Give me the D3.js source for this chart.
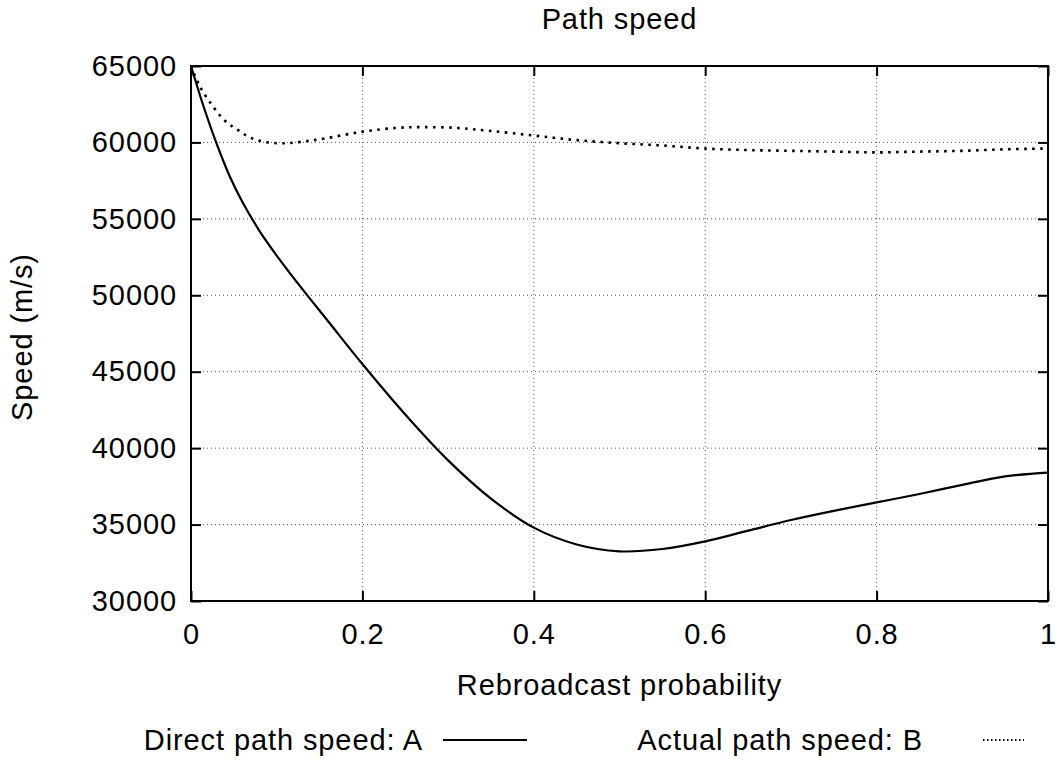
<!DOCTYPE html>
<html>
<head>
<meta charset="utf-8">
<script src="https://cdn.jsdelivr.net/npm/d3@7"></script>
<style>
  html, body { margin: 0; padding: 0; background: #fff; }
  svg text { font-family: "Liberation Sans", Arial, Helvetica, sans-serif; fill: #000; letter-spacing: 0.9px; }
</style>
</head>
<body>
<svg id="chart" width="1064" height="760"></svg>
<script>
const title = "Path speed";
const xLabel = "Rebroadcast probability";
const yLabel = "Speed (m/s)";
const xTicks = [0, 0.2, 0.4, 0.6, 0.8, 1];
const xTickLabels = ["0", "0.2", "0.4", "0.6", "0.8", "1"];
const yTicks = [30000, 35000, 40000, 45000, 50000, 55000, 60000, 65000];
const seriesNames = ["Direct path speed: A", "Actual path speed: B"];

const directX = [0, 0.015, 0.03, 0.045, 0.06, 0.08, 0.1, 0.13, 0.16, 0.2, 0.25, 0.3, 0.35, 0.4, 0.45, 0.5, 0.55, 0.6, 0.65, 0.7, 0.75, 0.8, 0.85, 0.9, 0.95, 1.0];
const directY = [65000, 62300, 59900, 57800, 56100, 54200, 52600, 50400, 48300, 45500, 42200, 39200, 36700, 34800, 33700, 33250, 33400, 33900, 34600, 35300, 35900, 36450, 37000, 37600, 38150, 38400];

const actualX = [0, 0.01, 0.025, 0.04, 0.055, 0.07, 0.09, 0.11, 0.13, 0.155, 0.2, 0.24, 0.27, 0.31, 0.35, 0.4, 0.45, 0.5, 0.55, 0.6, 0.65, 0.7, 0.75, 0.8, 0.85, 0.9, 0.95, 1.0];
const actualY = [65000, 63700, 62400, 61400, 60800, 60300, 60000, 59950, 60050, 60250, 60700, 60950, 61000, 60950, 60750, 60450, 60150, 59950, 59800, 59600, 59500, 59450, 59400, 59350, 59400, 59450, 59550, 59600];

const svg = d3.select("#chart");
const m = { left: 191, right: 1048, top: 66, bottom: 601 };
const FS = 29;

const x = d3.scaleLinear().domain([0, 1]).range([m.left, m.right]);
const y = d3.scaleLinear().domain([30000, 65000]).range([m.bottom, m.top]);

// grid
const grid = svg.append("g");
grid.selectAll("line.gy").data(yTicks.slice(1, -1)).enter().append("line")
  .attr("x1", m.left).attr("x2", m.right)
  .attr("y1", d => y(d)).attr("y2", d => y(d))
  .attr("stroke", "#555").attr("stroke-width", 1).attr("stroke-dasharray", "1,3");
grid.selectAll("line.gx").data(xTicks.slice(1, -1)).enter().append("line")
  .attr("y1", m.top).attr("y2", m.bottom)
  .attr("x1", d => x(d)).attr("x2", d => x(d))
  .attr("stroke", "#555").attr("stroke-width", 1).attr("stroke-dasharray", "1,3");

// axes with mirrored inner ticks
const tickLen = 10;
const axL = d3.axisLeft(y).tickValues(yTicks).tickSize(-tickLen).tickPadding(14).tickFormat(d3.format("d"));
const axR = d3.axisRight(y).tickValues(yTicks).tickSize(-tickLen).tickFormat("");
const axB = d3.axisBottom(x).tickValues(xTicks).tickSize(-tickLen).tickPadding(22).tickFormat((d, i) => xTickLabels[i]);
const axT = d3.axisTop(x).tickValues(xTicks).tickSize(-tickLen).tickFormat("");

function style(g) {
  g.selectAll(".domain").remove();
  g.selectAll(".tick line").attr("stroke", "#000").attr("stroke-width", 2);
  g.selectAll(".tick text").style("font-size", FS + "px").attr("fill", "#000")
    .style("font-family", "'Liberation Sans', Arial, sans-serif");
}
svg.append("g").attr("transform", `translate(${m.left},0)`).call(axL).call(style);
svg.append("g").attr("transform", `translate(${m.right},0)`).call(axR).call(style);
svg.append("g").attr("transform", `translate(0,${m.bottom})`).call(axB).call(style);
svg.append("g").attr("transform", `translate(0,${m.top})`).call(axT).call(style);

// frame
svg.append("rect").attr("x", m.left).attr("y", m.top)
  .attr("width", m.right - m.left).attr("height", m.bottom - m.top)
  .attr("fill", "none").attr("stroke", "#000").attr("stroke-width", 2);

// lines
const line = d3.line().x(d => x(d[0])).y(d => y(d[1])).curve(d3.curveCatmullRom.alpha(0.5));
const dA = directX.map((v, i) => [v, directY[i]]);
const dB = actualX.map((v, i) => [v, actualY[i]]);
svg.append("path").datum(dA).attr("d", line).attr("fill", "none")
  .attr("stroke", "#000").attr("stroke-width", 2.2);
svg.append("path").datum(dB).attr("d", line).attr("fill", "none")
  .attr("stroke", "#000").attr("stroke-width", 2.6).attr("stroke-dasharray", "2.6,5.4");

// labels
svg.append("text").attr("x", (m.left + m.right) / 2).attr("y", 29)
  .attr("text-anchor", "middle").style("font-size", FS + "px").text(title);
svg.append("text").attr("x", (m.left + m.right) / 2).attr("y", 695)
  .attr("text-anchor", "middle").style("font-size", FS + "px").text(xLabel);
svg.append("text").attr("transform", `translate(32,${337}) rotate(-90)`)
  .attr("text-anchor", "middle").style("font-size", FS + "px").text(yLabel);

// legend
const leg = svg.append("g");
leg.append("text").attr("x", 423).attr("y", 750).attr("text-anchor", "end")
  .style("font-size", FS + "px").text(seriesNames[0]);
leg.append("line").attr("x1", 443).attr("x2", 527).attr("y1", 740).attr("y2", 740)
  .attr("stroke", "#000").attr("stroke-width", 2.2);
leg.append("text").attr("x", 923).attr("y", 750).attr("text-anchor", "end")
  .style("font-size", FS + "px").text(seriesNames[1]);
leg.append("line").attr("x1", 983).attr("x2", 1024).attr("y1", 740).attr("y2", 740)
  .attr("stroke", "#000").attr("stroke-width", 2).attr("stroke-dasharray", "1.5,2.5");
</script>
</body>
</html>
